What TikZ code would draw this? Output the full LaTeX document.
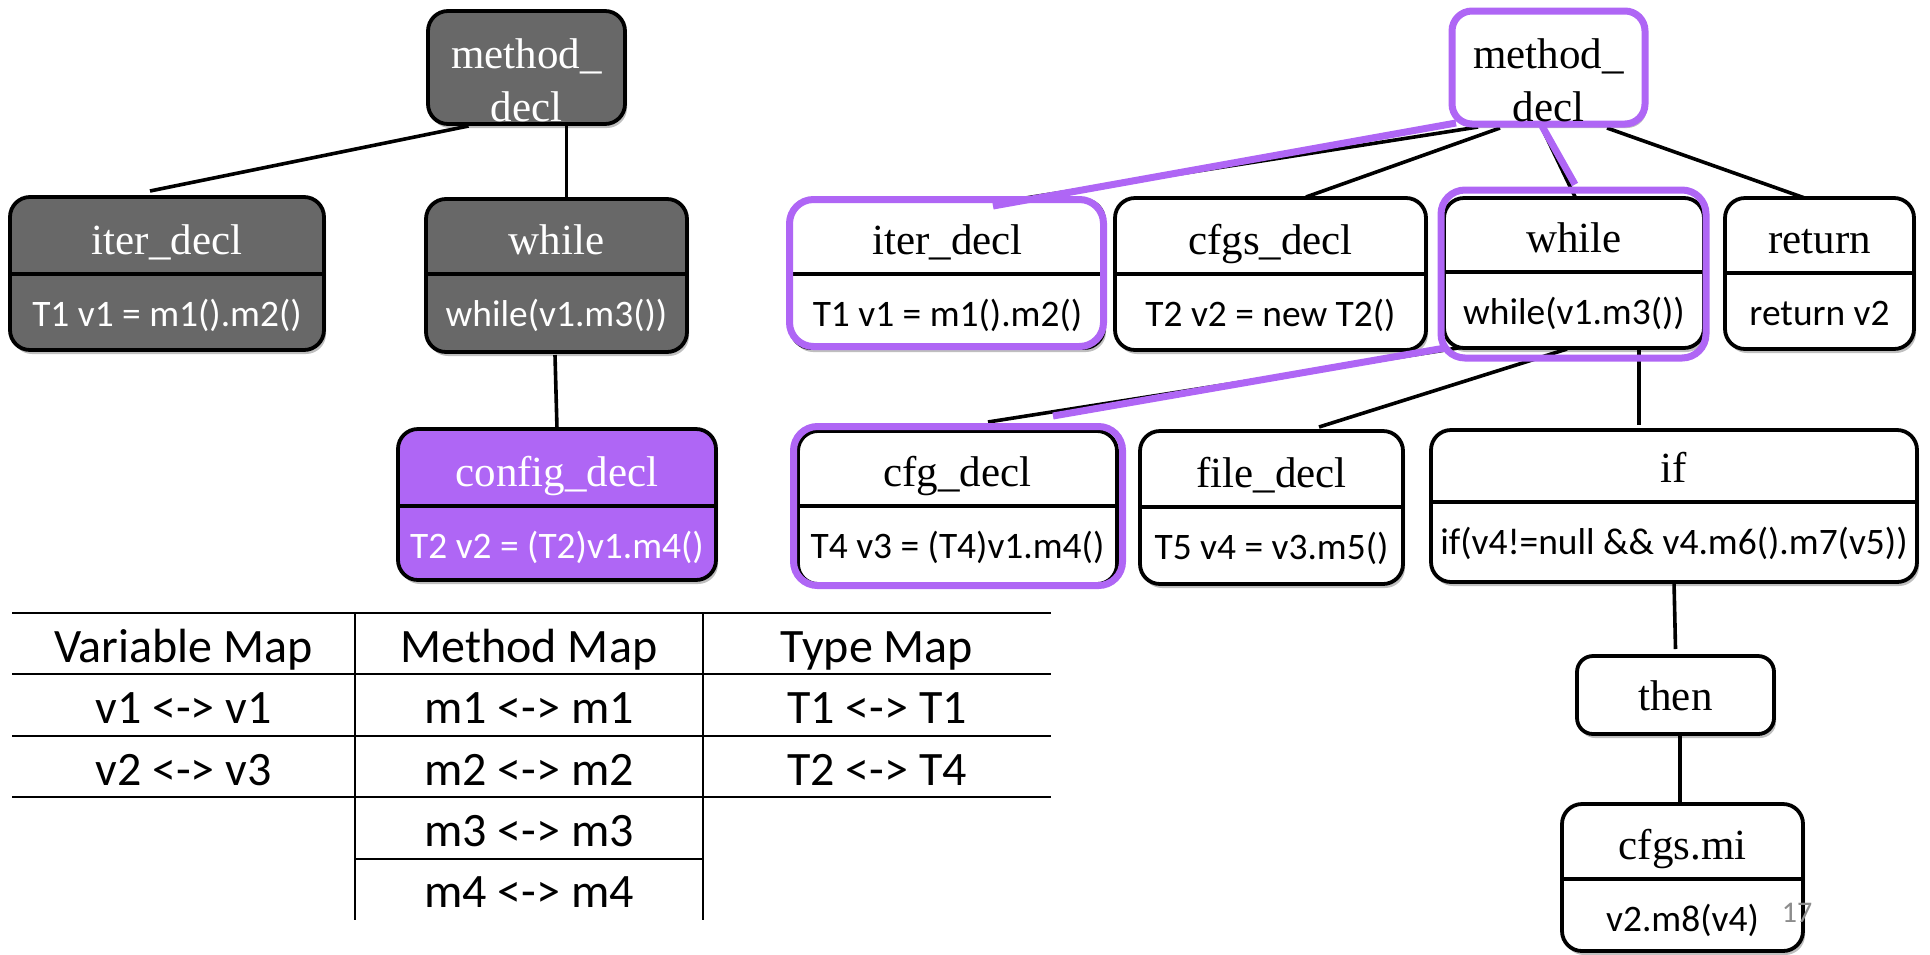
\documentclass[tikz,border=0pt]{standalone}
\usepackage{fontspec}
\newfontfamily\sansbody{Carlito}
\newfontfamily\serifhdr{Liberation Serif}
\usetikzlibrary{calc,fit,shadows,backgrounds}

\definecolor{astgray}{HTML}{686868}
\definecolor{hlpurple}{HTML}{AF66F5}
\definecolor{pagegray}{HTML}{8C8C8C}

\tikzset{
  boxbase/.style={draw=black, line width=1.9pt, rounded corners=10pt,
    inner sep=0pt, outer sep=0pt,
    drop shadow={shadow xshift=1pt, shadow yshift=-2pt, opacity=0.25, fill=black}},
  plainbox/.style={boxbase, fill=white},
  darkbox/.style={boxbase, fill=astgray},
  purplebox/.style={boxbase, fill=hlpurple},
  hlframe/.style={draw=hlpurple, line width=3.5pt, rounded corners=12pt, inner sep=0pt},
  divider/.style={line width=2.2pt},
  boxtext/.style={text=black},
  hdr/.style={font=\serifhdr\fontsize{21.5}{26.5}\selectfont, inner sep=0pt, align=center},
  bodytxt/.style={font=\sansbody\fontsize{18.7}{22}\selectfont, inner sep=0pt},
  treeline/.style={line width=1.8pt},
  hlline/.style={draw=hlpurple, line width=3.5pt},
  tabrule/.style={line width=1.4pt},
  tabcol/.style={line width=1pt},
  tabtxt/.style={font=\sansbody\fontsize{24}{28}\selectfont, inner sep=0pt, anchor=base},
}

% two-compartment AST box: name, style, x1, y1, x2, y2, divider y, header, body
\newcommand\astbox[9]{%
  \node[#2, fit={(#3,#4) (#5,#6)}] (#1) {};
  \draw[divider] (#3,#7) -- (#5,#7);
  \node[hdr, boxtext, anchor=base] (#1-h) at ({(#3+#5)/2},{#7-20}) {#8};
  \node[bodytxt, boxtext, anchor=base] (#1-b) at ({(#3+#5)/2},{#7+52}) {#9};
}

\begin{document}
\begin{tikzpicture}[x=0.5pt, y=-0.5pt]
\useasboundingbox (0,0) rectangle (1930,954);

% ---------- left tree ----------
\begin{scope}[boxtext/.style={text=white}]
  \node[darkbox, fit={(428,11) (625,124)}] (Lmethod) {};
  \node[hdr, boxtext] (Lmethod-h) at (526.5,80) {method\_\\decl};
  \astbox{Liter}{darkbox}{10}{197}{324}{350}{274}{iter\_decl}{T1 v1 = m1().m2()}
  \astbox{Lwhile}{darkbox}{426}{199}{687}{352}{274}{while}{while(v1.m3())}
  \astbox{Lconfig}{purplebox}{398}{429}{716}{580}{506}{config\_decl}{T2 v2 = (T2)v1.m4()}
\end{scope}

% ---------- right tree ----------
\node[plainbox, draw=hlpurple, line width=3.5pt, fit={(1452,11) (1645,124)}] (Rmethod) {};
\node[hdr] (Rmethod-h) at (1548.5,80) {method\_\\decl};
\astbox{Riter}{plainbox}{791}{200}{1104}{348}{274}{iter\_decl}{T1 v1 = m1().m2()}
\astbox{Rcfgs}{plainbox}{1115}{198}{1426}{350}{274}{cfgs\_decl}{T2 v2 = new T2()}
\astbox{Rwhile}{plainbox}{1444}{198}{1704}{348}{272}{while}{while(v1.m3())}
\astbox{Rreturn}{plainbox}{1725}{198}{1914}{349}{273}{return}{return v2}
\astbox{Rcfg}{plainbox}{798}{431}{1117}{584}{506}{cfg\_decl}{T4 v3 = (T4)v1.m4()}
\astbox{Rfile}{plainbox}{1140}{431}{1403}{584}{507}{file\_decl}{T5 v4 = v3.m5()}
\astbox{Rif}{plainbox}{1431}{430}{1917}{582}{502}{if}{if(v4!=null \&\& v4.m6().m7(v5))}
\node[plainbox, rounded corners=8pt, fit={(1577,656) (1774,734)}] (Rthen) {};
\node[hdr, anchor=base] (Rthen-h) at (1675.5,710) {then};
\astbox{Rcfgsmi}{plainbox}{1562}{804}{1803}{951}{879}{cfgs.mi}{v2.m8(v4)}

% highlighted matches
\node[hlframe, fit={(789.5,199.5) (1103.5,346.5)}] (Riter-hl) {};
\node[hlframe, fit={(1441,190) (1706,358)}] (Rwhile-hl) {};
\node[hlframe, fit={(793.5,426.5) (1122.5,585.5)}] (Rcfg-hl) {};

% ---------- tree edges ----------
\begin{scope}[on background layer]
  \draw[treeline] ($(Lmethod.south)+(-58,2)$) -- ($(Liter.north)+(-17,-6)$);
  \draw[treeline] ($(Lmethod.south)+(40,2)$) -- ($(Lwhile.north)+(10,0)$);
  \draw[treeline] ($(Lwhile.south)+(-1.5,3)$) -- (Lconfig.north);

  \draw[treeline] ($(Rmethod.south)+(-70.5,3)$) -- ($(Riter.north)+(52.5,2)$);
  \draw[treeline] ($(Rmethod.south)+(-48.5,4)$) -- ($(Rcfgs.north)+(35.5,-1)$);
  \draw[treeline] ($(Rmethod.south)+(-6.5,4)$) -- ($(Rwhile.north)+(3,3)$);
  \draw[treeline] ($(Rmethod.south)+(58.5,4)$) -- ($(Rreturn.north)+(-3.5,4)$);
  \draw[treeline] ($(Rwhile.south)+(-97,-3)$) -- ($(Rcfg.north)+(30.5,-9)$);
  \draw[treeline] ($(Rwhile.south)+(-7,1)$) -- ($(Rfile.north)+(47.5,-4)$);
  \draw[treeline] ($(Rwhile.south)+(65,2)$) -- ($(Rif.north)+(-35,-5)$);
  \draw[treeline] (Rif.south) -- ($(Rthen.north)+(0,-7)$);
  \draw[treeline] ($(Rthen.south)+(4.5,-4)$) -- ($(Rcfgsmi.north)+(-2.5,-1)$);
\end{scope}
\draw[hlline] ($(Rmethod.south)+(-92.5,-1)$) -- ($(Riter.north)+(45.5,6)$);
\draw[hlline] ($(Rmethod.south)+(-6.5,2)$) -- ($(Rwhile-hl.north)+(1.5,-2)$);
\draw[hlline] ($(Rwhile.south)+(-129,0)$) -- ($(Rcfg.north)+(95.5,-15)$);

% ---------- mapping table ----------
\draw[tabrule] (12,613) -- (1051,613);
\draw[tabrule] (12,674) -- (1051,674);
\draw[tabrule] (12,736) -- (1051,736);
\draw[tabrule] (12,797) -- (1051,797);
\draw[tabrule] (356,859) -- (703,859);
\draw[tabcol] (355,613) -- (355,920);
\draw[tabcol] (703,613) -- (703,920);

\node[tabtxt] (hvar) at (183.5,662) {Variable Map};
\node[tabtxt] (hmeth) at (529,662) {Method Map};
\node[tabtxt] (htype) at (877,662) {Type Map};
\node[tabtxt] (v1) at (183.5,723) {v1 <-> v1};
\node[tabtxt] (v2) at (183.5,785) {v2 <-> v3};
\node[tabtxt] (m1) at (529,723) {m1 <-> m1};
\node[tabtxt] (m2) at (529,785) {m2 <-> m2};
\node[tabtxt] (m3) at (529,846) {m3 <-> m3};
\node[tabtxt] (m4) at (529,907) {m4 <-> m4};
\node[tabtxt] (t1) at (877,723) {T1 <-> T1};
\node[tabtxt] (t2) at (877,785) {T2 <-> T4};

% page number
\node[font=\sansbody\fontsize{15}{18}\selectfont, text=pagegray, anchor=base, inner sep=0pt] (pgnum) at (1797,922) {17};
\end{tikzpicture}
\end{document}
